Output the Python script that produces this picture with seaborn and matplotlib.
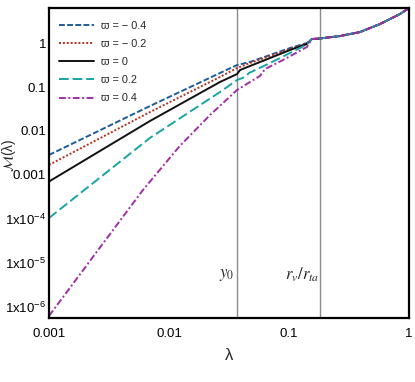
import matplotlib
matplotlib.use("Agg")
import matplotlib.pyplot as plt
import matplotlib.ticker as mticker
import seaborn as sns

# values (lambda, M)
lam_tail = [0.155, 0.181, 0.266, 0.391, 0.573, 0.841, 1.0]
m_tail = [1.23, 1.27, 1.44, 1.78, 2.70, 4.56, 6.24]

lam_m04 = [0.001, 0.00695, 0.0266, 0.0369, 0.0473, 0.0695, 0.102, 0.141]
m_m04 = [2.85e-3, 0.037, 0.208, 0.316, 0.37, 0.534, 0.77, 1.0]

lam_m02 = [0.001, 0.00695, 0.0266, 0.0369, 0.0473, 0.0695, 0.102, 0.141]
m_m02 = [1.69e-3, 0.027, 0.169, 0.27, 0.351, 0.507, 0.731, 0.975]

lam_0 = [0.001, 0.00695, 0.0266, 0.0369, 0.0391, 0.0473, 0.0695, 0.102, 0.141]
m_0 = [7.1e-4, 0.0169, 0.13, 0.197, 0.243, 0.30, 0.456, 0.693, 0.949]

lam_p02 = [0.001, 0.00693, 0.0266, 0.0369, 0.043, 0.0464, 0.0695, 0.102, 0.141]
m_p02 = [1.05e-4, 6.93e-3, 0.0769, 0.144, 0.169, 0.208, 0.351, 0.593, 0.925]

lam_p04 = [0.001, 0.00266, 0.00607, 0.0123, 0.022, 0.0369, 0.0473, 0.0573,
           0.0631, 0.0891, 0.141]
m_p04 = [6.24e-7, 2.24e-5, 4.56e-4, 4.56e-3, 0.0231, 0.0855, 0.13, 0.178,
         0.256, 0.411, 0.811]

labels = ["ϖ = − 0.4", "ϖ = − 0.2", "ϖ = 0", "ϖ = 0.2", "ϖ = 0.4"]
lam_y0 = 0.0369
lam_rv = 0.181

y_ticks = [1e-6, 1e-5, 1e-4, 1e-3, 1e-2, 1e-1, 1]
y_ticklabels = [r"1x10$^{\mathregular{-6}}$", r"1x10$^{\mathregular{-5}}$",
                r"1x10$^{\mathregular{-4}}$", "0.001", "0.01", "0.1", "1"]
x_ticks = [0.001, 0.01, 0.1, 1]
x_ticklabels = ["0.001", "0.01", "0.1", "1"]

sns.set_style("white")
plt.rcParams["font.family"] = ["Liberation Sans Narrow", "Liberation Sans", "DejaVu Sans"]
plt.rcParams["mathtext.fontset"] = "stix"

fig = plt.figure(figsize=(4.15, 3.82), dpi=100)
ax = fig.add_axes([0.118, 0.1675, 0.8675, 0.8115])

colors = ["#1f5c9c", "#b5301e", "#111111", "#1aa3a3", "#a02ea6"]
styles = [(0, (3, 1.2)), (0, (1, 1)), "-", (0, (5, 2)), (0, (3.5, 1.3, 1, 1.3))]
curves = [(lam_m04, m_m04), (lam_m02, m_m02), (lam_0, m_0),
          (lam_p02, m_p02), (lam_p04, m_p04)]

ax.axvline(lam_y0, color="#8c8c8c", lw=1.0, zorder=1)
ax.axvline(lam_rv, color="#8c8c8c", lw=1.0, zorder=1)

for (lx, my), lab, c, ls in zip(curves, labels, colors, styles):
    sns.lineplot(x=lx + lam_tail, y=my + m_tail, ax=ax, color=c,
                 linestyle=ls, lw=1.4, label=lab, estimator=None, sort=False)

ax.set_xscale("log")
ax.set_yscale("log")
ax.set_xlim(0.001, 1)
ax.set_ylim(5.6e-7, 6.25)

ax.set_xticks(x_ticks)
ax.set_xticklabels(x_ticklabels)
ax.set_yticks(y_ticks)
ax.set_yticklabels(y_ticklabels)
ax.xaxis.set_minor_locator(mticker.LogLocator(base=10, subs=range(2, 10)))
ax.yaxis.set_minor_locator(mticker.LogLocator(base=10, subs=range(2, 10), numticks=20))
ax.xaxis.set_minor_formatter(mticker.NullFormatter())
ax.yaxis.set_minor_formatter(mticker.NullFormatter())
ax.tick_params(which="both", direction="in", top=False, right=False,
               colors="black", labelsize=9.5)
ax.tick_params(axis="x", pad=7)
ax.tick_params(axis="y", pad=2)
ax.tick_params(which="major", length=5, width=1.0)
ax.tick_params(which="minor", length=3, width=0.8)

for s in ax.spines.values():
    s.set_color("black")
    s.set_linewidth(1.6)

ax.set_xlabel("λ", fontsize=12, labelpad=6)
ax.set_ylabel(r"$\mathcal{M}$(λ)", fontsize=10)
ax.yaxis.set_label_coords(-0.086, 0.525)

ax.text(lam_y0 / 1.06, 5.3e-6, r"$y_0$", ha="right", va="center", fontsize=12)
ax.text(lam_rv / 1.01, 5.3e-6, r"$r_v/r_{ta}$", ha="right", va="center", fontsize=12)

ax.legend(loc="upper left", bbox_to_anchor=(0.0, 0.99), frameon=False,
          fontsize=7.8, handlelength=3.3, handletextpad=0.6,
          labelspacing=0.75, borderaxespad=0.5, borderpad=0.4)

fig.savefig("out.png", dpi=100)
